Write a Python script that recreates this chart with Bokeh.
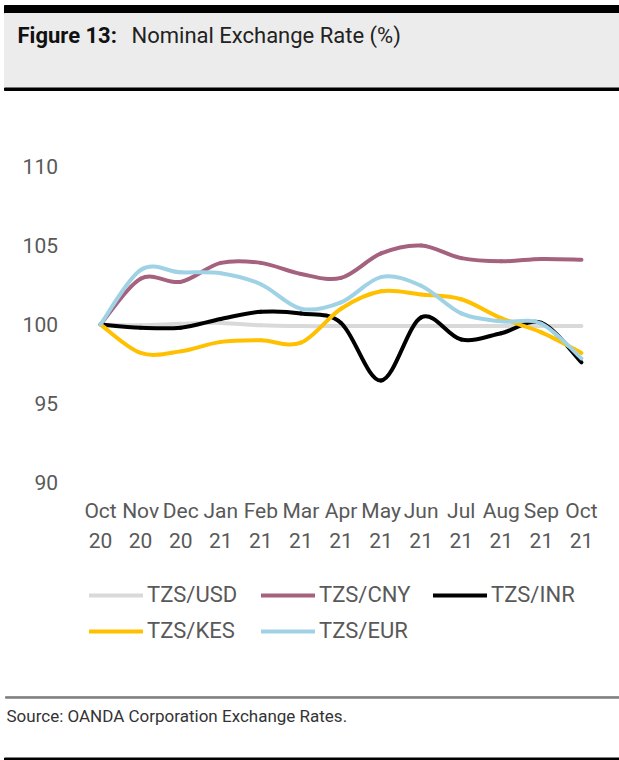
from bokeh.plotting import figure
from bokeh.models import Range1d, Legend, LegendItem
from bokeh.core.properties import value
from bokeh.embed import file_html
from bokeh.resources import INLINE

# ---- data ----
months = ["Oct", "Nov", "Dec", "Jan", "Feb", "Mar", "Apr", "May", "Jun", "Jul", "Aug", "Sep", "Oct"]
years = ["20", "20", "20", "21", "21", "21", "21", "21", "21", "21", "21", "21", "21"]
y_ticks = [90, 95, 100, 105, 110]
tzs_usd = [100.0, 99.95, 100.05, 100.1, 99.95, 99.9, 99.9, 99.9, 99.9, 99.9, 99.9, 99.9, 99.9]
tzs_cny = [100.0, 102.9, 102.7, 103.9, 103.9, 103.2, 102.95, 104.5, 105.0, 104.2, 104.0, 104.15, 104.1]
tzs_inr = [100.0, 99.8, 99.8, 100.35, 100.8, 100.7, 100.1, 96.45, 100.45, 99.05, 99.45, 100.1, 97.6]
tzs_kes = [100.0, 98.2, 98.3, 98.9, 99.0, 98.85, 101.0, 102.1, 101.9, 101.6, 100.4, 99.5, 98.2]
tzs_eur = [100.0, 103.45, 103.3, 103.25, 102.55, 101.0, 101.4, 103.0, 102.45, 100.7, 100.2, 100.05, 97.85]

series = [
    ("TZS/USD", tzs_usd, "#d9d9d9"),
    ("TZS/CNY", tzs_cny, "#a5627f"),
    ("TZS/INR", tzs_inr, "#000000"),
    ("TZS/KES", tzs_kes, "#ffc000"),
    ("TZS/EUR", tzs_eur, "#a0d2e6"),
]

FONT = value("Roboto")
W, H = 619, 760
TICK_COLOR = "#595959"


def bezier_segments(xs, ys):
    """Cubic Bezier control points for a smooth curve through the data points."""
    n = len(xs)
    out = dict(x0=[], y0=[], x1=[], y1=[], cx0=[], cy0=[], cx1=[], cy1=[])
    for i in range(n - 1):
        a = i - 1 if i > 0 else i
        d = i + 2 if i + 2 < n else i + 1
        out["x0"].append(xs[i]); out["y0"].append(ys[i])
        out["x1"].append(xs[i + 1]); out["y1"].append(ys[i + 1])
        out["cx0"].append(xs[i] + (xs[i + 1] - xs[a]) / 6)
        out["cy0"].append(ys[i] + (ys[i + 1] - ys[a]) / 6)
        out["cx1"].append(xs[i + 1] - (xs[d] - xs[i]) / 6)
        out["cy1"].append(ys[i + 1] - (ys[d] - ys[i]) / 6)
    return out


# one canvas; default ranges are pixel units, the chart uses its own extra ranges
p = figure(width=W, height=H, x_range=Range1d(0, W), y_range=Range1d(0, H),
           output_backend="svg", toolbar_location=None, x_axis_type=None, y_axis_type=None,
           min_border=0, outline_line_color=None)
p.grid.visible = False

# chart area: categories between 80 and 601 px from left; values 90..110 between 278 and 594 px from bottom
PX_X = 521 / 13.0
PX_Y = 316 / 20.0
p.extra_x_ranges = {"cx": Range1d(-0.5 - 80 / PX_X, 12.5 + (W - 601) / PX_X)}
p.extra_y_ranges = {"cy": Range1d(90 - 278 / PX_Y, 110 + (H - 594) / PX_Y)}

# ---- header ----
p.quad(left=4, right=W, bottom=747, top=755, color="#000000")
p.quad(left=4, right=W, bottom=672.5, top=747, color="#ececec")
p.quad(left=4, right=W, bottom=670, top=672.5, color="#000000")
p.text(x=[17], y=[725], text=["Figure 13:"], text_font=FONT, text_font_style="bold",
       text_font_size="22px", text_color="#111111", text_baseline="middle")
p.text(x=[131], y=[725], text=["Nominal Exchange Rate (%)"], text_font=FONT,
       text_font_size="22px", text_color="#222222", text_baseline="middle")

# ---- axes (tick labels) ----
xs = list(range(len(months)))
p.text(x=[57.5] * len(y_ticks), y=y_ticks, text=[str(t) for t in y_ticks], y_range_name="cy",
       text_font=FONT, text_font_size="21px", text_color=TICK_COLOR,
       text_align="right", text_baseline="middle")
p.text(x=xs, y=[249.5] * len(xs), text=months, x_range_name="cx",
       text_font=FONT, text_font_size="21px", text_color=TICK_COLOR,
       text_align="center", text_baseline="middle")
p.text(x=xs, y=[220.5] * len(xs), text=years, x_range_name="cx",
       text_font=FONT, text_font_size="21px", text_color=TICK_COLOR,
       text_align="center", text_baseline="middle")

# ---- series ----
items = []
for name, vals, col in series:
    r = p.bezier(source=bezier_segments(xs, vals), x0="x0", y0="y0", x1="x1", y1="y1",
                 cx0="cx0", cy0="cy0", cx1="cx1", cy1="cy1",
                 line_color=col, line_width=4, line_cap="round",
                 x_range_name="cx", y_range_name="cy")
    items.append(LegendItem(label=name, renderers=[r]))

leg = Legend(items=items, location=(89, 117), orientation="horizontal", ncols=3,
             glyph_width=54, glyph_height=20, label_standoff=4, spacing=11,
             label_width=103, label_height=20, padding=0, margin=0,
             label_text_font="Roboto", label_text_font_size="22px", label_text_color=TICK_COLOR,
             background_fill_alpha=0, border_line_color=None)
p.add_layout(leg, "center")

# ---- footer ----
p.quad(left=5, right=W, bottom=62.3, top=63.8, color="#808080")
p.text(x=[6], y=[44.5], text=["Source: OANDA Corporation Exchange Rates."], text_font=FONT,
       text_font_size="17px", text_color="#333333", text_baseline="middle")
p.quad(left=4, right=W, bottom=0, top=2.5, color="#000000")

open("out.html", "w").write(file_html(p, INLINE))
